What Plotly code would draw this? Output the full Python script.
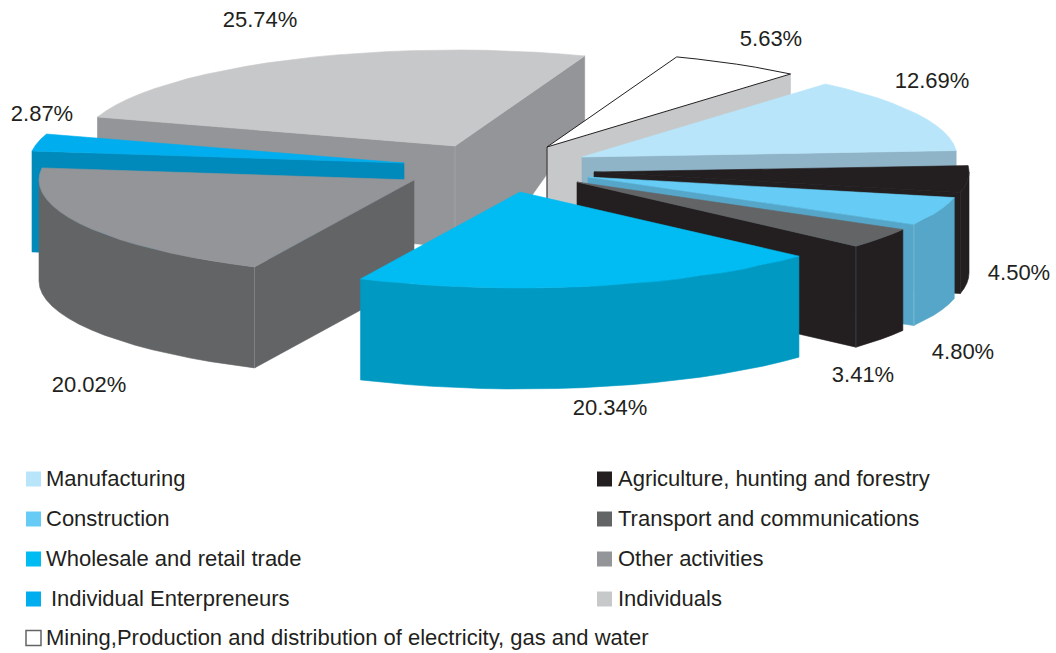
import numpy as np
import plotly.graph_objects as go

# --- data -------------------------------------------------------------
categories = ["Manufacturing", "Agriculture, hunting and forestry", "Construction",
              "Transport and communications", "Wholesale and retail trade", "Other activities",
              "Individual Enterpreneurs", "Individuals",
              "Mining,Production and distribution of electricity, gas and water"]
values = [12.69, 4.50, 4.80, 3.41, 20.34, 20.02, 2.87, 25.74, 5.63]

# --- styles -----------------------------------------------------------
top_colors = ["#b8e5fa", "#231f20", "#66ccf5", "#636466", "#00bcf2", "#939598", "#00aeef", "#c7c8ca", "#ffffff"]
side_colors = ["#8fb3c7", "#231f20", "#55a6c8", "#231f20", "#0099c2", "#636466", "#008abb", "#939598", "#c7c8ca"]
legend_colors = ["#b8e5fa", "#231f20", "#66ccf5", "#636466", "#00bcf2", "#939598", "#00aeef", "#c7c8ca", "#ffffff"]
crease_colors = [None, None, "#7fc0dc", "#3f4a50", None, "#88898c", None, "#a5a6a9", None]

# --- pie geometry (3-D look: ellipse + extrusion) ---------------------
CX, CY = 495, 170
RX, RY = 375, 96
START_DEG = 40.5
DEPTH = 101
explode_x = [87, 99, 93, 82, 25, -81, -91, -40, 52]
explode_y = [-13, 2, 7, 12, 22, 10, -7, -24, -23]
draw_order = [7, 8, 6, 5, 0, 1, 2, 3, 4]

# --- label / legend layout --------------------------------------------
label_x = [932, 1019, 963, 863, 610, 89, 42, 260, 771]
label_y = [82, 274, 353, 376, 409, 386, 115, 21, 40]
legend_col = [0, 1, 0, 1, 0, 1, 0, 1, 0]
legend_row = [0, 0, 1, 1, 2, 2, 3, 3, 4]
legend_rows_y = [480, 520, 560, 600, 639]
legend_marker_y = [479, 519, 559, 599, 638]
legend_marker_x = [33.5, 604.5]
legend_text_x = [46, 618]
legend_text_extra = [0, 0, 0, 0, 0, 0, 5, 0, 0]
FONT = "Liberation Sans"
FSIZE = 22
TXT = "#231f20"


def rim(i_x, i_y, t_deg):
    t = np.radians(t_deg)
    return i_x + RX * np.sin(t), i_y - RY * np.cos(t)


def poly(fig, xs, ys, fill, line=None, width=0.6):
    fig.add_trace(go.Scatter(x=list(xs), y=list(ys), mode="lines", fill="toself",
                             fillcolor=fill, line=dict(color=line or fill, width=width),
                             hoverinfo="skip", showlegend=False))


def vline(fig, x, y0, y1, color, width=0.8):
    fig.add_trace(go.Scatter(x=[x, x], y=[y0, y1], mode="lines",
                             line=dict(color=color, width=width), hoverinfo="skip", showlegend=False))


fig = go.Figure()
edges = START_DEG + np.concatenate([[0], np.cumsum(values)]) * 3.6
for i in draw_order:
    ax, ay = CX + explode_x[i], CY + explode_y[i]
    t1, t2 = edges[i], edges[i + 1]
    ts = np.linspace(t1, t2, max(4, int((t2 - t1) / 4) + 2))
    px, py = rim(ax, ay, ts)
    side = side_colors[i]
    # radial cut faces
    for t, visible in ((t1, np.sin(np.radians(t1)) < 0), (t2, np.sin(np.radians(t2)) > 0)):
        if visible:
            rx, ry = rim(ax, ay, t)
            apex_depth = DEPTH
            rim_depth = DEPTH
            if i == 7 and t == t2:  # far cut of the Individuals slice is shortened
                apex_depth, rim_depth = 158, 65
            poly(fig, [ax, rx, rx, ax, ax], [ay, ry, ry + rim_depth, ay + apex_depth, ay], side)
    # outer wall (front half only)
    a, b = max(t1 % 360, 90), min(t2 % 360 if t2 % 360 > t1 % 360 else 360, 270)
    if a < b:
        tw = np.linspace(a, b, max(4, int((b - a) / 4) + 2))
        wx, wy = rim(ax, ay, tw)
        poly(fig, np.r_[wx, wx[::-1], wx[0]], np.r_[wy, wy[::-1] + DEPTH, wy[0]], side)
    # crease where two vertical faces meet
    if crease_colors[i]:
        if i == 7:
            vline(fig, ax, ay, ay + DEPTH, crease_colors[i])
        else:
            t = t1 if i == 5 else t2
            rx, ry = rim(ax, ay, t)
            vline(fig, rx, ry, ry + DEPTH, crease_colors[i])
    # top
    if i == 8:
        poly(fig, np.r_[ax, px, ax], np.r_[ay, py, ay], top_colors[i], line="#231f20", width=1)
        vline(fig, ax, ay, ay + DEPTH, "#231f20", 1)
    else:
        poly(fig, np.r_[ax, px, ax], np.r_[ay, py, ay], top_colors[i])

# percentage labels
fig.add_trace(go.Scatter(x=label_x, y=label_y, mode="text",
                         text=[f"{v:.2f}%" for v in values],
                         textposition="middle center",
                         textfont=dict(family=FONT, size=FSIZE, color=TXT),
                         hoverinfo="skip", showlegend=False))

# legend
for i, name in enumerate(categories):
    r = legend_row[i]
    c = legend_col[i]
    line = dict(color="#636466", width=1.5) if i == 8 else dict(width=0)
    fig.add_trace(go.Scatter(x=[legend_marker_x[c]], y=[legend_marker_y[r]], mode="markers",
                             marker=dict(symbol="square", size=15, color=legend_colors[i], line=line),
                             hoverinfo="skip", showlegend=False))
    fig.add_trace(go.Scatter(x=[legend_text_x[c] + legend_text_extra[i]], y=[legend_rows_y[r]], mode="text", text=[name],
                             textposition="middle right",
                             textfont=dict(family=FONT, size=FSIZE, color=TXT),
                             hoverinfo="skip", showlegend=False))

fig.update_layout(width=1056, height=653, margin=dict(l=0, r=0, t=0, b=0),
                  paper_bgcolor="white", plot_bgcolor="white",
                  xaxis=dict(range=[0, 1056], visible=False, fixedrange=True),
                  yaxis=dict(range=[653, 0], visible=False, fixedrange=True))
fig.write_html("out.html", config=dict(displayModeBar=False),
               post_script="document.body.style.margin='0';document.body.style.overflow='hidden';")
